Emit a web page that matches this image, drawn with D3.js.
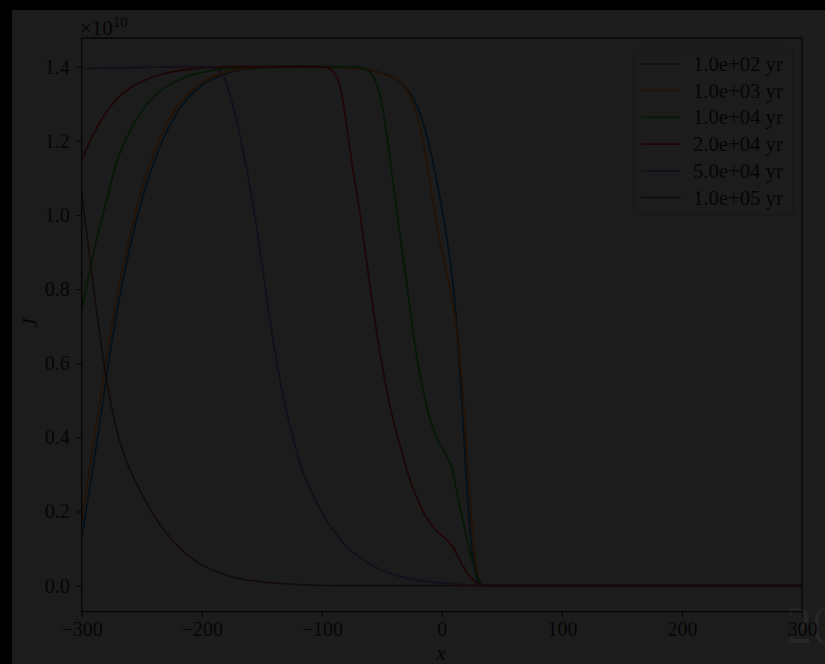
<!DOCTYPE html>
<html>
<head>
<meta charset="utf-8">
<script src="https://cdn.jsdelivr.net/npm/d3@7"></script>
<style>
  body { margin: 0; background: #000; }
  svg { display: block; }
  text { font-family: "Liberation Serif", "DejaVu Serif", serif; }
</style>
</head>
<body>
<div id="chart"></div>
<script>
// series labels + colours (matplotlib tab10, dimmed like the reference)
const labels = ["1.0e+02 yr", "1.0e+03 yr", "1.0e+04 yr", "2.0e+04 yr", "5.0e+04 yr", "1.0e+05 yr"];
const colors = ["#04111a", "#241204", "#061806", "#1f0505", "#150e1b", "#140c0a"];

const xTicks = [-300, -200, -100, 0, 100, 200, 300];
const yTicks = [0.0, 0.2, 0.4, 0.6, 0.8, 1.0, 1.2, 1.4];

// J in units of 1e10
const x1e2 = [-300, -290, -280, -270, -260, -250, -240, -230, -220, -210, -200, -185, -170, -150, -120, -80, -63, -50, -40, -32, -26, -20, -14, -8, -3, 3, 8, 12, 15, 18, 21, 24, 27, 30, 33, 300];
const j1e2 = [0.13, 0.33, 0.55, 0.75, 0.91, 1.04, 1.14, 1.22, 1.28, 1.32, 1.35, 1.375, 1.39, 1.397, 1.4, 1.398, 1.392, 1.383, 1.37, 1.35, 1.325, 1.29, 1.23, 1.15, 1.07, 0.96, 0.85, 0.72, 0.58, 0.42, 0.26, 0.13, 0.05, 0.01, 0, 0];

const x1e3 = [-300, -290, -280, -270, -260, -250, -240, -230, -220, -210, -200, -185, -170, -150, -120, -80, -63, -50, -40, -32, -26, -20, -14, -7, 0, 7, 12, 16, 19, 22, 25, 28, 31, 34, 300];
const j1e3 = [0.177, 0.39, 0.6, 0.79, 0.94, 1.07, 1.165, 1.24, 1.295, 1.33, 1.357, 1.38, 1.392, 1.398, 1.4, 1.398, 1.392, 1.383, 1.37, 1.35, 1.32, 1.26, 1.17, 1.03, 0.9, 0.8, 0.7, 0.58, 0.45, 0.3, 0.17, 0.07, 0.015, 0, 0];

const x1e4 = [-300, -290, -280, -270, -260, -250, -240, -230, -215, -200, -180, -150, -75, -66, -60, -55, -50, -46, -42, -38, -32, -27, -21, -15, -10, -3, 4, 8, 12, 18, 23, 29, 34, 300];
const j1e4 = [0.744, 0.9, 1.03, 1.15, 1.225, 1.28, 1.32, 1.345, 1.37, 1.385, 1.395, 1.4, 1.4, 1.397, 1.385, 1.36, 1.3, 1.22, 1.12, 1.02, 0.88, 0.76, 0.62, 0.52, 0.45, 0.39, 0.35, 0.32, 0.26, 0.17, 0.096, 0.03, 0, 0];

const x2e4 = [-300, -290, -280, -270, -260, -250, -240, -225, -205, -180, -105, -95, -90, -86, -82, -78, -73, -68, -62, -56, -50, -43, -35, -27, -20, -12, -5, 0, 5, 10, 14, 18, 23, 28, 34, 300];
const j2e4 = [1.148, 1.22, 1.275, 1.315, 1.342, 1.36, 1.373, 1.386, 1.395, 1.4, 1.4, 1.397, 1.385, 1.36, 1.3, 1.21, 1.1, 1.0, 0.86, 0.72, 0.6, 0.48, 0.38, 0.29, 0.23, 0.18, 0.15, 0.135, 0.12, 0.1, 0.075, 0.05, 0.026, 0.01, 0, 0];

const x5e4 = [-300, -250, -200, -192, -186, -181, -177, -172, -166, -160, -153, -146, -139, -132, -124, -116, -106, -95, -82, -68, -52, -35, -15, 10, 30, 300];
const j5e4 = [1.395, 1.398, 1.4, 1.398, 1.39, 1.37, 1.33, 1.27, 1.18, 1.08, 0.94, 0.78, 0.63, 0.51, 0.4, 0.31, 0.235, 0.17, 0.115, 0.075, 0.045, 0.025, 0.012, 0.005, 0, 0];

const x1e5 = [-300, -295, -290, -285, -280, -275, -270, -262, -252, -240, -229, -215, -202, -188, -174, -150, -120, -90, 300];
const j1e5 = [1.06, 0.93, 0.8, 0.68, 0.57, 0.48, 0.41, 0.33, 0.26, 0.19, 0.14, 0.092, 0.06, 0.038, 0.023, 0.01, 0.003, 0, 0];

const seriesX = [x1e2, x1e3, x1e4, x2e4, x5e4, x1e5];
const seriesJ = [j1e2, j1e3, j1e4, j2e4, j5e4, j1e5];

const W = 825, H = 664;
const axL = 81.7, axR = 802, axT = 38, axB = 611.7;
const ink = "#060606";
const fontSize = 20;

const svg = d3.select("#chart").append("svg")
    .attr("width", W)
    .attr("height", H);

// figure background (dimmed page), black strips left and top
svg.append("rect").attr("width", W).attr("height", H).attr("fill", "#000");
svg.append("rect").attr("x", 12).attr("y", 10).attr("width", W - 12).attr("height", H - 10).attr("fill", "#1c1c1c");

const x = d3.scaleLinear().domain([-300, 300]).range([axL, axR]);
const y = d3.scaleLinear().domain([-0.0704, 1.4775]).range([axB, axT]);

// faint "20" behind the right corner
svg.append("text")
    .attr("x", 786)
    .attr("y", 643)
    .style("font-size", "52px")
    .attr("fill", "#262626")
    .text("20");

const line = d3.line()
    .x(d => x(d[0]))
    .y(d => y(d[1]))
    .curve(d3.curveMonotoneX);

const plot = svg.append("g");
plot.append("clipPath").attr("id", "clip")
    .append("rect").attr("x", axL).attr("y", axT).attr("width", axR - axL).attr("height", axB - axT);

seriesX.forEach((xs, i) => {
    const pts = xs.map((v, k) => [v, seriesJ[i][k]]);
    plot.append("path")
        .attr("clip-path", "url(#clip)")
        .attr("d", line(pts))
        .attr("fill", "none")
        .attr("stroke", colors[i])
        .attr("stroke-width", 1.7);
});

// axes
const xAxis = svg.append("g")
    .attr("transform", `translate(0,${axB})`)
    .call(d3.axisBottom(x).tickValues(xTicks).tickSize(5).tickPadding(5).tickFormat(d3.format("d")));

const yAxis = svg.append("g")
    .attr("transform", `translate(${axL},0)`)
    .call(d3.axisLeft(y).tickValues(yTicks).tickSize(5).tickPadding(7).tickFormat(d3.format(".1f")));

[xAxis, yAxis].forEach(g => {
    g.select(".domain").remove();
    g.selectAll("line").attr("stroke", ink).attr("stroke-width", 1.1);
    g.selectAll("text").attr("fill", ink).style("font-size", fontSize + "px")
        .style("font-family", '"Liberation Serif", serif');
});

// spines
svg.append("rect")
    .attr("x", axL).attr("y", axT)
    .attr("width", axR - axL).attr("height", axB - axT)
    .attr("fill", "none")
    .attr("stroke", ink)
    .attr("stroke-width", 1.3);

// offset text
const off = svg.append("text")
    .attr("x", 80)
    .attr("y", 35)
    .attr("fill", ink)
    .style("font-size", "21px");
off.append("tspan").text("×10");
off.append("tspan").attr("dy", -8).style("font-size", "15px").text("10");

// axis labels
svg.append("text")
    .attr("x", 441)
    .attr("y", 660)
    .attr("text-anchor", "middle")
    .attr("fill", ink)
    .style("font-size", "21px")
    .style("font-style", "italic")
    .text("x");

svg.append("text")
    .attr("transform", "translate(37,323) rotate(-90)")
    .attr("text-anchor", "middle")
    .attr("fill", ink)
    .style("font-size", "21px")
    .style("font-style", "italic")
    .text("J");

// legend
const legend = svg.append("g");
legend.append("rect")
    .attr("x", 634).attr("y", 48)
    .attr("width", 159).attr("height", 167)
    .attr("rx", 4)
    .attr("fill", "#1c1c1c")
    .attr("stroke", "#171717")
    .attr("stroke-width", 1);

labels.forEach((lab, i) => {
    const cy = 64 + i * 26.7;
    legend.append("line")
        .attr("x1", 641).attr("x2", 681)
        .attr("y1", cy).attr("y2", cy)
        .attr("stroke", colors[i])
        .attr("stroke-width", 1.7);
    legend.append("text")
        .attr("x", 693)
        .attr("y", cy + 7)
        .attr("fill", ink)
        .style("font-size", "20.7px")
        .text(lab);
});
</script>
</body>
</html>
